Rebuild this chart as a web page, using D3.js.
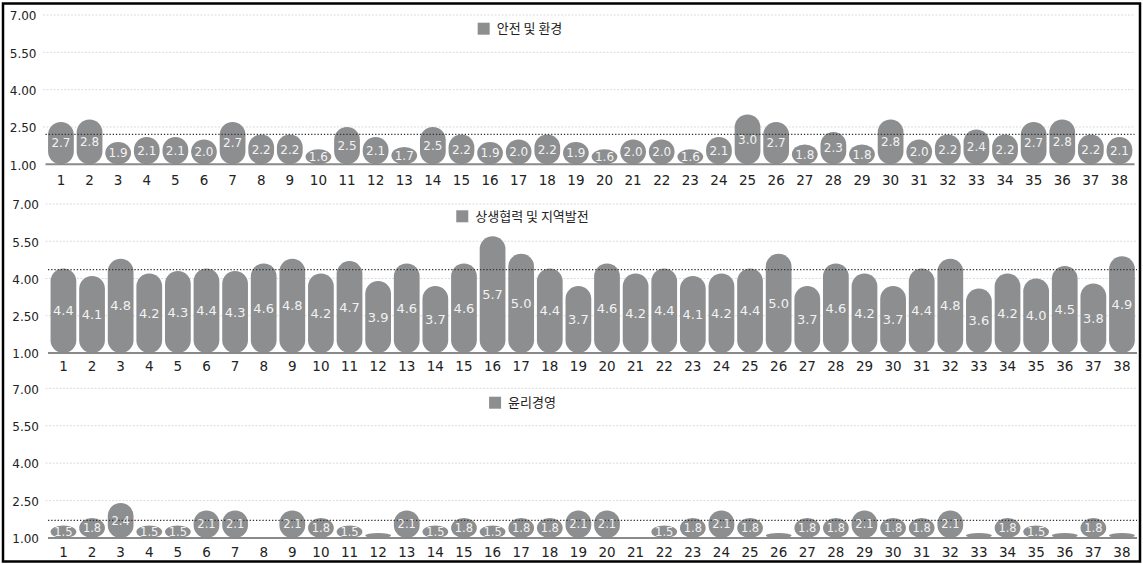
<!DOCTYPE html>
<html>
<head>
<meta charset="utf-8">
<script src="https://cdn.jsdelivr.net/npm/d3@7"></script>
<style>
  html, body { margin: 0; padding: 0; background: #fff; }
  svg { display: block; }
</style>
</head>
<body>
<svg id="chart" width="1143" height="564"></svg>
<script>
// Survey item numbers along the x axis
const categories = ["1","2","3","4","5","6","7","8","9","10","11","12","13","14","15","16","17","18","19",
  "20","21","22","23","24","25","26","27","28","29","30","31","32","33","34","35","36","37","38"];

// Panel titles (legend entries)
const panelTitles = ["안전 및 환경", "상생협력 및 지역발전", "윤리경영"];

// Scores per item
const safetyScores = [2.7,2.8,1.9,2.1,2.1,2.0,2.7,2.2,2.2,1.6,2.5,2.1,1.7,2.5,2.2,1.9,2.0,2.2,1.9,
  1.6,2.0,2.0,1.6,2.1,3.0,2.7,1.8,2.3,1.8,2.8,2.0,2.2,2.4,2.2,2.7,2.8,2.2,2.1];
const communityScores = [4.4,4.1,4.8,4.2,4.3,4.4,4.3,4.6,4.8,4.2,4.7,3.9,4.6,3.7,4.6,5.7,5.0,4.4,3.7,
  4.6,4.2,4.4,4.1,4.2,4.4,5.0,3.7,4.6,4.2,3.7,4.4,4.8,3.6,4.2,4.0,4.5,3.8,4.9];
const ethicsScores = [1.5,1.8,2.4,1.5,1.5,2.1,2.1,1.0,2.1,1.8,1.5,1.2,2.1,1.5,1.8,1.5,1.8,1.8,2.1,
  2.1,1.0,1.5,1.8,2.1,1.8,1.2,1.8,1.8,2.1,1.8,1.8,2.1,1.2,1.8,1.5,1.2,1.8,1.2];

// Y axis ticks
const tickValues = [1.0, 2.5, 4.0, 5.5, 7.0];
const tickLabels = ["1.00", "2.50", "4.00", "5.50", "7.00"];

const series = [safetyScores, communityScores, ethicsScores];

// Panel placement
const layout = [
  { dx: 0,   top: 15,    base: 164.3, xLabelY: 180,   legendY: 28.7,  valueSize: 12 },
  { dx: 2.5, top: 204,   base: 353,   xLabelY: 365.7, legendY: 216.3, valueSize: 13 },
  { dx: 2.5, top: 388.3, base: 538,   xLabelY: 551.7, legendY: 402.7, valueSize: 11.5 }
];

const barColor = "#8d8e90";
const numFont = "'DejaVu Sans', sans-serif";
const krFont = "'Noto Sans CJK KR', 'Noto Sans', sans-serif";

const svg = d3.select("#chart");

// Outer frame
svg.append("rect")
  .attr("x", 3).attr("y", 3.5)
  .attr("width", 1137).attr("height", 558)
  .attr("fill", "#fff")
  .attr("stroke", "#000")
  .attr("stroke-width", 2.5);

series.forEach((values, i) => {
  const L = layout[i];
  const g = svg.append("g").attr("transform", `translate(${L.dx},0)`);

  const x = d3.scaleBand()
    .domain(categories)
    .range([45.2, 1135.2])
    .padding(0.1);

  const y = d3.scaleLinear()
    .domain([1, 7])
    .range([L.base, L.top]);

  // Light dotted gridlines
  g.append("g")
    .selectAll("line")
    .data(tickValues.filter(v => v > 1))
    .join("line")
    .attr("x1", 43).attr("x2", 1134.5)
    .attr("y1", d => y(d)).attr("y2", d => y(d))
    .attr("stroke", "#dcdcdc")
    .attr("stroke-width", 1)
    .attr("stroke-dasharray", "2,1.5");

  // Y axis labels
  g.append("g")
    .attr("transform", "translate(36.5,0)")
    .call(d3.axisLeft(y).tickValues(tickValues)
      .tickFormat((d, k) => tickLabels[k]).tickSize(0).tickPadding(0))
    .call(a => a.select(".domain").remove())
    .call(a => a.selectAll("text")
      .attr("font-family", numFont)
      .attr("font-size", 12)
      .attr("fill", "#222")
      .attr("dy", "0.4em"));

  // Pill-shaped bars
  g.append("g")
    .selectAll("rect")
    .data(values.map((v, k) => ({ cat: categories[k], v })))
    .join("rect")
    .attr("x", d => x(d.cat))
    .attr("y", d => y(d.v))
    .attr("width", x.bandwidth())
    .attr("height", d => y(1) - y(d.v))
    .attr("rx", x.bandwidth() / 2)
    .attr("ry", x.bandwidth() / 2)
    .attr("fill", barColor);

  // Baseline at 1.00
  g.append("line")
    .attr("x1", 45.5).attr("x2", 1134.5)
    .attr("y1", y(1)).attr("y2", y(1))
    .attr("stroke", "#8a8a8a")
    .attr("stroke-width", 2);

  // Mean line (dotted)
  const mean = d3.mean(values);
  g.append("line")
    .attr("x1", 45.5).attr("x2", 1134.5)
    .attr("y1", y(mean)).attr("y2", y(mean))
    .attr("stroke", "#333")
    .attr("stroke-width", 1.2)
    .attr("stroke-dasharray", "1.3,1.9");

  // Value labels inside bars
  g.append("g")
    .selectAll("text")
    .data(values.map((v, k) => ({ cat: categories[k], v })).filter(d => d.v >= 1.3))
    .join("text")
    .attr("x", d => x(d.cat) + x.bandwidth() / 2)
    .attr("y", d => (y(d.v) + y(1)) / 2)
    .attr("dy", "0.36em")
    .attr("text-anchor", "middle")
    .attr("font-family", numFont)
    .attr("font-size", L.valueSize)
    .attr("fill", "#f2f2f2")
    .text(d => d3.format(".1f")(d.v));

  // X axis labels
  g.append("g")
    .attr("transform", `translate(0,${L.base})`)
    .call(d3.axisBottom(x).tickSize(0))
    .call(a => a.select(".domain").remove())
    .call(a => a.selectAll("text")
      .attr("y", L.xLabelY - L.base)
      .attr("dy", "0.36em")
      .attr("font-family", numFont)
      .attr("font-size", 13.5)
      .attr("fill", "#222"));

  // Legend, centred around a fixed point
  const legend = g.append("g");
  const label = legend.append("text")
    .attr("y", L.legendY)
    .attr("dy", "0.36em")
    .attr("font-family", krFont)
    .attr("font-size", 13)
    .attr("fill", "#222")
    .text(panelTitles[i]);
  const tw = label.node().getComputedTextLength();
  const total = 12 + 7 + tw;
  const lx = 520 - total / 2;
  legend.insert("rect", "text")
    .attr("x", lx).attr("y", L.legendY - 6)
    .attr("width", 12).attr("height", 12)
    .attr("fill", barColor);
  label.attr("x", lx + 19);
});
</script>
</body>
</html>
